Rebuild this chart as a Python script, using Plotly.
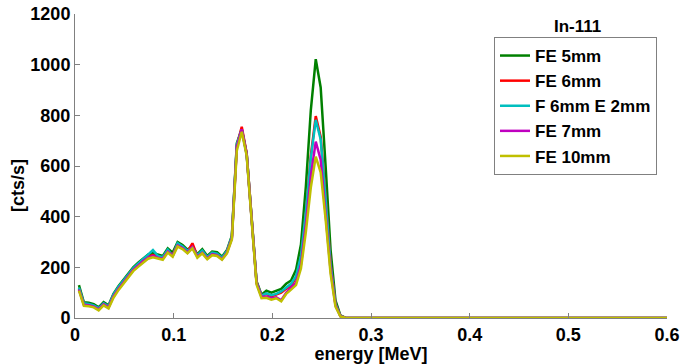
import plotly.graph_objects as go

energy = [0.004, 0.009, 0.014, 0.019, 0.024, 0.029, 0.034, 0.039, 0.044, 0.049,
          0.054, 0.059, 0.064, 0.069, 0.074, 0.079, 0.084, 0.089, 0.094, 0.099,
          0.104, 0.109, 0.114, 0.119, 0.124, 0.129, 0.134, 0.139, 0.144, 0.149,
          0.154, 0.159, 0.164, 0.169, 0.174, 0.179, 0.184, 0.189, 0.194, 0.199,
          0.204, 0.209, 0.214, 0.219, 0.224, 0.229, 0.234, 0.239, 0.244, 0.249,
          0.254, 0.259, 0.264, 0.269, 0.274, 0.279, 0.3, 0.4, 0.5, 0.6]

fe_5mm = [130, 62, 60, 55, 42, 63, 50, 95, 125, 150,
          172, 200, 218, 235, 250, 256, 250, 245, 275, 258,
          300, 288, 270, 282, 252, 272, 245, 262, 260, 242,
          268, 325, 690, 745, 650, 390, 145, 92, 108, 100,
          108, 115, 135, 148, 190, 290, 520, 820, 1022, 910,
          600, 270, 70, 10, 1, 0, 0, 0, 0, 0]

fe_6mm = [115, 55, 52, 48, 36, 56, 44, 88, 118, 143,
          165, 193, 210, 228, 242, 248, 242, 238, 265, 250,
          290, 280, 262, 295, 245, 262, 238, 255, 250, 235,
          262, 318, 680, 755, 650, 385, 140, 88, 95, 85,
          92, 100, 115, 128, 160, 235, 410, 640, 797, 715,
          480, 215, 55, 8, 1, 0, 0, 0, 0, 0]

f6_e2mm = [120, 58, 55, 50, 38, 58, 46, 92, 122, 146,
           168, 196, 214, 232, 246, 268, 245, 240, 270, 245,
           295, 282, 265, 278, 248, 266, 240, 258, 254, 238,
           264, 322, 685, 745, 645, 385, 140, 88, 97, 90,
           95, 105, 120, 135, 165, 245, 420, 630, 782, 705,
           470, 210, 55, 8, 1, 0, 0, 0, 0, 0]

fe_7mm = [112, 52, 50, 45, 34, 54, 42, 85, 115, 140,
          162, 190, 207, 225, 238, 245, 238, 234, 262, 246,
          286, 276, 258, 280, 242, 258, 235, 252, 248, 232,
          258, 315, 675, 745, 645, 385, 138, 84, 85, 78,
          82, 70, 100, 120, 140, 210, 370, 560, 696, 625,
          420, 190, 50, 7, 1, 0, 0, 0, 0, 0]

fe_10mm = [108, 48, 46, 42, 30, 50, 38, 80, 110, 135,
           158, 185, 202, 220, 234, 240, 234, 230, 258, 242,
           282, 272, 255, 275, 238, 255, 232, 248, 245, 230,
           255, 310, 660, 735, 640, 380, 132, 78, 80, 72,
           78, 66, 95, 112, 130, 195, 340, 515, 637, 575,
           390, 175, 45, 6, 1, 0, 0, 0, 0, 0]

series_names = ["FE 5mm", "FE 6mm", "F 6mm E 2mm", "FE 7mm", "FE 10mm"]
series_values = [fe_5mm, fe_6mm, f6_e2mm, fe_7mm, fe_10mm]
series_colors = ["#008000", "#FF0000", "#00BFBF", "#BF00BF", "#BFBF00"]

x_ticks = [0, 0.1, 0.2, 0.3, 0.4, 0.5, 0.6]
x_tick_text = ["0", "0.1", "0.2", "0.3", "0.4", "0.5", "0.6"]
y_ticks = [0, 200, 400, 600, 800, 1000, 1200]

FONT = "Liberation Sans, Arial, sans-serif"

W, H = 680, 364
ML, MR, MT, MB = 75, 13, 14, 46
PW, PH = W - ML - MR, H - MT - MB


def px_x(x):  # window pixel -> paper x
    return (x - ML) / PW


def px_y(y):  # window pixel -> paper y
    return (H - MB - y) / PH


fig = go.Figure()
for name, vals, col in zip(series_names, series_values, series_colors):
    fig.add_trace(go.Scatter(x=energy, y=vals, mode="lines", name=name,
                             line=dict(color=col, width=2.5)))

fig.update_layout(
    width=W, height=H,
    margin=dict(l=ML, r=MR, t=MT, b=MB),
    paper_bgcolor="white", plot_bgcolor="white",
    font=dict(family=FONT, size=18, color="black", weight="bold"),
    showlegend=True,
    legend=dict(x=px_x(657), y=px_y(37), xanchor="right", yanchor="top",
                bgcolor="white", bordercolor="#808080", borderwidth=1,
                font=dict(family=FONT, size=17, color="black", weight="bold"),
                tracegroupgap=0, itemwidth=30),
    annotations=[
        dict(text="<b>In-111</b>", x=px_x(577), y=px_y(26), xref="paper", yref="paper",
             xanchor="center", yanchor="middle", showarrow=False,
             font=dict(family=FONT, size=17, color="black")),
        dict(text="<b>[cts/s]</b>", xref="paper", yref="paper",
             x=px_x(18), y=px_y(186), xanchor="center", yanchor="middle",
             showarrow=False, textangle=-90,
             font=dict(family=FONT, size=18, color="black")),
    ],
)

fig.update_xaxes(range=[0, 0.6], tickvals=x_ticks, ticktext=x_tick_text,
                 showline=True, linecolor="#808080", linewidth=1,
                 ticks="inside", ticklen=5, tickcolor="#808080",
                 showgrid=False, zeroline=False, mirror=False,
                 ticklabeloverflow="allow",
                 tickfont=dict(family=FONT, size=18, color="black", weight="bold"),
                 title=dict(text="energy [MeV]", standoff=2,
                            font=dict(family=FONT, size=18, color="black", weight="bold")),
                 automargin=False)
fig.update_yaxes(range=[0, 1200], tickvals=y_ticks,
                 showline=True, linecolor="#808080", linewidth=1,
                 ticks="inside", ticklen=5, tickcolor="#808080",
                 showgrid=False, zeroline=False, mirror=False,
                 ticklabeloverflow="allow",
                 tickfont=dict(family=FONT, size=18, color="black", weight="bold"),
                 automargin=False)

fig.write_html("out.html",
               config={"displayModeBar": False},
               post_script="document.body.style.margin='0px';"
                           "document.body.style.overflow='hidden';")
